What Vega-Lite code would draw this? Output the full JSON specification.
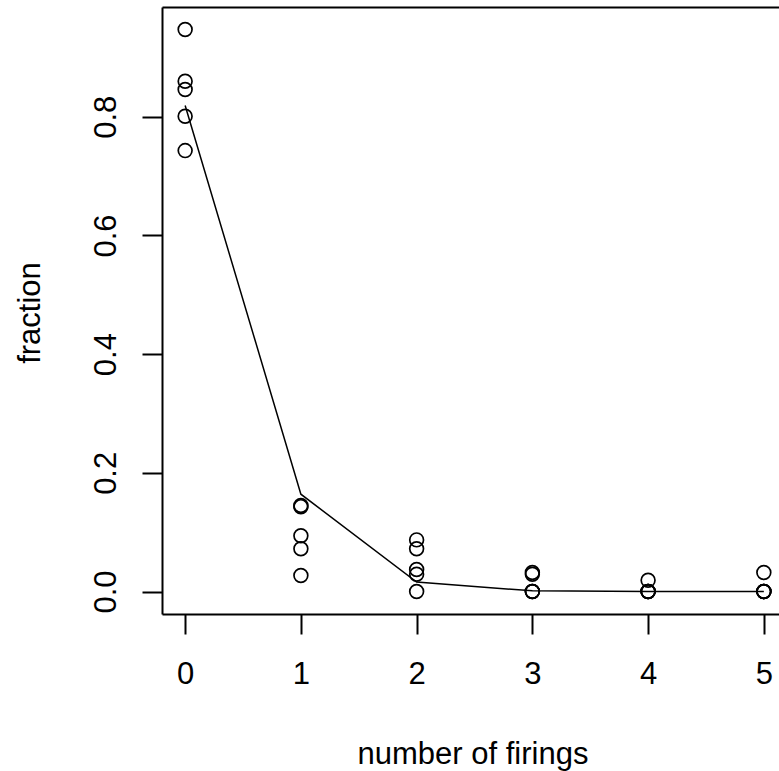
{
  "$schema": "https://vega.github.io/schema/vega-lite/v6.json",
  "autosize": {"type": "none"},
  "padding": {"left": 162, "top": 7, "right": 0, "bottom": 157},
  "width": 617,
  "height": 607,
  "background": "white",
  "config": {
    "view": {"stroke": null},
    "font": "Liberation Sans",
    "axis": {
      "labelFont": "Liberation Sans",
      "titleFont": "Liberation Sans",
      "labelFontSize": 31,
      "titleFontSize": 31,
      "titleFontWeight": "normal",
      "labelColor": "black",
      "titleColor": "black",
      "domainColor": "black",
      "tickColor": "black",
      "domainWidth": 2,
      "tickWidth": 2,
      "tickSize": 20,
      "grid": false
    }
  },
  "datasets": {
    "obs": [
      {"firings": 0, "fraction": 0.947},
      {"firings": 0, "fraction": 0.860},
      {"firings": 0, "fraction": 0.846},
      {"firings": 0, "fraction": 0.801},
      {"firings": 0, "fraction": 0.743},
      {"firings": 1, "fraction": 0.145},
      {"firings": 1, "fraction": 0.143},
      {"firings": 1, "fraction": 0.094},
      {"firings": 1, "fraction": 0.072},
      {"firings": 1, "fraction": 0.027},
      {"firings": 2, "fraction": 0.087},
      {"firings": 2, "fraction": 0.072},
      {"firings": 2, "fraction": 0.037},
      {"firings": 2, "fraction": 0.029},
      {"firings": 2, "fraction": 0.0},
      {"firings": 3, "fraction": 0.032},
      {"firings": 3, "fraction": 0.029},
      {"firings": 3, "fraction": 0.0},
      {"firings": 3, "fraction": 0.0},
      {"firings": 3, "fraction": 0.0},
      {"firings": 4, "fraction": 0.019},
      {"firings": 4, "fraction": 0.0},
      {"firings": 4, "fraction": 0.0},
      {"firings": 4, "fraction": 0.0},
      {"firings": 4, "fraction": 0.0},
      {"firings": 5, "fraction": 0.032},
      {"firings": 5, "fraction": 0.0},
      {"firings": 5, "fraction": 0.0},
      {"firings": 5, "fraction": 0.0},
      {"firings": 5, "fraction": 0.0}
    ],
    "fit": [
      {"firings": 0, "fraction": 0.819},
      {"firings": 1, "fraction": 0.164},
      {"firings": 2, "fraction": 0.016},
      {"firings": 3, "fraction": 0.0011},
      {"firings": 4, "fraction": 0.0001},
      {"firings": 5, "fraction": 0.0}
    ]
  },
  "encoding": {
    "y": {
      "field": "fraction",
      "type": "quantitative",
      "scale": {"domain": [-0.0379, 0.985], "nice": false, "zero": false},
      "axis": {
        "title": "fraction",
        "values": [0, 0.2, 0.4, 0.6, 0.8],
        "format": ".1f",
        "labelAngle": -90,
        "labelAlign": "center",
        "labelBaseline": "bottom",
        "labelPadding": 20,
        "titleAngle": -90,
        "titleAlign": "center",
        "titleBaseline": "alphabetic",
        "titleX": -122.7,
        "titleY": 305.5
      }
    }
  },
  "layer": [
    {
      "data": {"name": "obs"},
      "mark": {"type": "point", "shape": "circle", "filled": false, "stroke": "black", "strokeWidth": 1.7, "size": 190, "opacity": 1},
      "encoding": {
        "x": {
          "field": "firings",
          "type": "quantitative",
          "scale": {"domain": [-0.2, 5.131], "nice": false, "zero": false},
          "axis": {
            "orient": "bottom",
            "title": "number of firings",
            "values": [0, 1, 2, 3, 4, 5],
            "format": "d",
            "labelAngle": 0,
            "labelBaseline": "top",
            "labelAlign": "center",
            "labelPadding": 25,
            "titleAlign": "center",
            "titleBaseline": "alphabetic",
            "titleX": 310.5,
            "titleY": 149
          }
        }
      }
    },
    {
      "data": {"name": "fit"},
      "mark": {"type": "line", "color": "black", "strokeWidth": 1.5},
      "encoding": {
        "x": {
          "field": "firings",
          "type": "quantitative",
          "axis": {
            "orient": "top",
            "title": null,
            "labels": false,
            "ticks": false,
            "domain": true
          }
        }
      }
    }
  ],
  "resolve": {"axis": {"x": "independent"}}
}
